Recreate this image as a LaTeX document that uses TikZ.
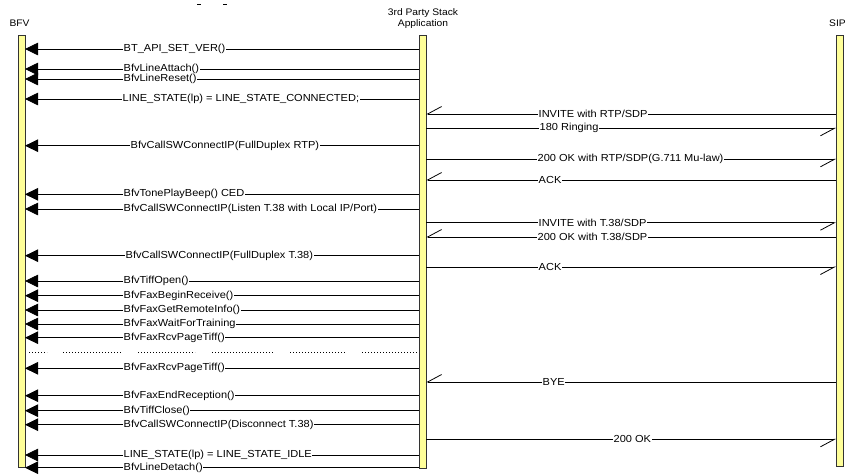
\documentclass[tikz,border=0pt]{standalone}
\usepackage{fontspec}
\setmainfont{Liberation Sans}[FakeStretch=1.08]
\usetikzlibrary{arrows.meta}
\definecolor{baryellow}{HTML}{FFFF99}
\begin{document}
\begin{tikzpicture}[x=1pt,y=-1pt,
  bar/.style={draw=black!80, fill=baryellow, line width=0.8pt, minimum width=7pt, inner sep=0pt, outer sep=0pt, anchor=north west},
  head/.style={font=\fontsize{9.5}{11}\selectfont, align=center, inner sep=0pt},
  lbl/.style={font=\fontsize{10.2}{10.4}\selectfont, fill=white, inner xsep=0.5pt, inner ysep=0.4pt, anchor=west},
  callarrow/.style={draw=black, line width=0.8pt, -{Triangle[length=13pt,width=12.5pt]}},
  sigarrow/.style={draw=black, line width=0.8pt, -{Straight Barb[harpoon,swap,length=14pt,width=15pt]}},
  dotrow/.style={draw=black, line width=0.8pt, dash pattern=on 0.8pt off 2.2pt},
]
\useasboundingbox (0,0) rectangle (858,475);

% lifelines
\node[bar, minimum height=432pt] (bfv) at (18,35) {};
\node[bar, minimum height=433pt] (app) at (419,35) {};
\node[bar, minimum height=431pt] (sip) at (836,35) {};

% headers
\node[head] (hbfv) at (19.5,23) {BFV};
\node[head] (happ) at (423,18.5) {3rd Party Stack\\Application};
\node[head] (hsip) at (837.5,23) {SIP};

% small marks at the top
\draw[line width=0.8pt] (197,4) -- (201,4);
\draw[line width=0.8pt] (223,4) -- (227,4);

% calls from the application to BFV
\foreach \y/\x/\t [count=\i] in {
  49/123/{BT\_API\_SET\_VER()},
  69/123/{BfvLineAttach()},
  79/123/{BfvLineReset()},
  99/122/{LINE\_STATE(lp) = LINE\_STATE\_CONNECTED;},
  145.7/130/{BfvCallSWConnectIP(FullDuplex RTP)},
  194.3/123/{BfvTonePlayBeep() CED\ },
  209/123/{BfvCallSWConnectIP(Listen T.38 with Local IP/Port)},
  255.7/125/{BfvCallSWConnectIP(FullDuplex T.38)},
  281/123/{BfvTiffOpen()},
  295.7/123/{BfvFaxBeginReceive()},
  310/123/{BfvFaxGetRemoteInfo()},
  324/123/{BfvFaxWaitForTraining},
  337.7/123/{BfvFaxRcvPageTiff()},
  368.3/123/{BfvFaxRcvPageTiff()},
  395.7/123/{BfvFaxEndReception()},
  410.7/123/{BfvTiffClose()},
  424.7/123/{BfvCallSWConnectIP(Disconnect T.38)},
  455/123/{LINE\_STATE(lp) = LINE\_STATE\_IDLE\ },
  467.7/123/{BfvLineDetach()}}
{
  \draw[callarrow] (app.west |- 0,\y) -- (bfv.east |- 0,\y);
  \node[lbl] (call\i) at (\x,\y) {\t};
}

% SIP signalling: from SIP to the application
\foreach \y/\x/\t [count=\i] in {
  114/538/{INVITE with RTP/SDP\ },
  180/538/{ACK},
  237/537/{200 OK with T.38/SDP},
  382/542/{BYE}}
{
  \draw[sigarrow] (sip.west |- 0,\y) -- (app.east |- 0,\y);
  \node[lbl] (in\i) at (\x,\y) {\t};
}

% SIP signalling: from the application to SIP
\foreach \y/\x/\t [count=\i] in {
  128.3/539/{180 Ringing},
  159.3/537/{200 OK with RTP/SDP(G.711 Mu-law)},
  222.7/538/{INVITE with T.38/SDP},
  267/538/{ACK},
  439.3/613/{200 OK}}
{
  \draw[sigarrow] (app.east |- 0,\y) -- (sip.west |- 0,\y);
  \node[lbl] (out\i) at (\x,\y) {\t};
}

% dotted break
\foreach \a/\b in {29/47, 63/122, 138/195, 212/273, 290/345, 362/418}
  \draw[dotrow] (\a,352.7) -- (\b,352.7);
\end{tikzpicture}
\end{document}
